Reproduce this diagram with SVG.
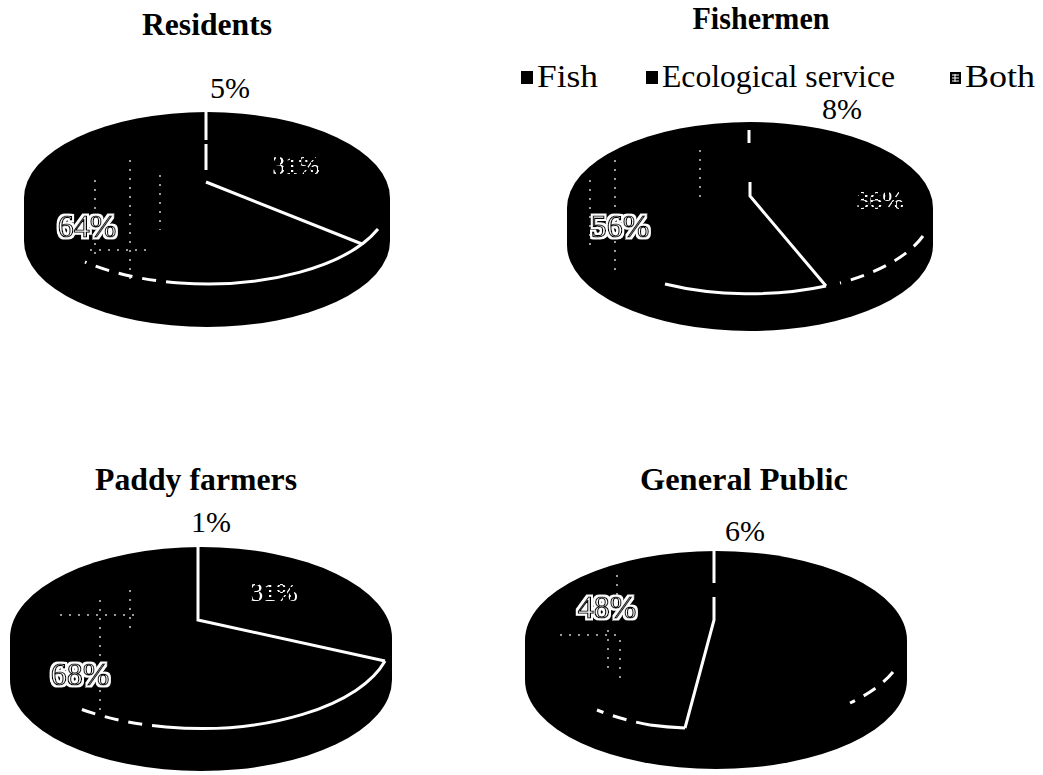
<svg xmlns="http://www.w3.org/2000/svg" width="1043" height="775" viewBox="0 0 1043 775">
<defs>
<style>
.title{font-family:"Liberation Serif","Times New Roman",serif;font-weight:bold;font-size:32px;fill:#000;text-anchor:middle}
.pct{font-family:"Liberation Serif","Times New Roman",serif;font-size:30px;fill:#000;text-anchor:middle}
.leg{font-family:"Liberation Serif","Times New Roman",serif;font-size:32px;fill:#000}
.lbl{font-family:"Liberation Serif","Times New Roman",serif;font-size:32px;fill:#fff;stroke:#000;stroke-width:1.2;text-anchor:middle;filter:url(#halo)}
.frag{font-family:"Liberation Serif","Times New Roman",serif;font-size:26px;fill:#fff;text-anchor:middle;mask:url(#broken)}
.body{fill:#000}
.edge{fill:none;stroke:#fff;stroke-width:3;stroke-linecap:butt}
.dash{fill:none;stroke:#fff;stroke-width:3;stroke-dasharray:14 10}
.tex{fill:none;stroke:#fff;stroke-width:1.5;stroke-dasharray:2 7;opacity:0.8}
</style>
<filter id="halo" x="-20%" y="-20%" width="140%" height="140%">
<feMorphology in="SourceAlpha" operator="dilate" radius="1.6" result="d"/>
<feFlood flood-color="#fff"/>
<feComposite in2="d" operator="in" result="w"/>
<feMerge><feMergeNode in="w"/><feMergeNode in="SourceGraphic"/></feMerge>
</filter>
<pattern id="stripes" width="7" height="5" patternUnits="userSpaceOnUse">
<rect width="3" height="5" fill="#fff"/>
<rect x="3" width="4" height="2" fill="#fff"/>
</pattern>
<mask id="broken" maskUnits="userSpaceOnUse" x="0" y="0" width="1043" height="775">
<rect width="1043" height="775" fill="url(#stripes)"/>
</mask>
</defs>
<rect width="1043" height="775" fill="#fff"/>

<g id="legend">
<rect x="521" y="71" width="12" height="13" fill="#000"/>
<text class="leg" x="537" y="87" textLength="61" lengthAdjust="spacingAndGlyphs">Fish</text>
<rect x="646" y="71" width="12" height="13" fill="#000"/>
<text class="leg" x="662" y="87" textLength="233" lengthAdjust="spacingAndGlyphs">Ecological service</text>
<rect x="950" y="72" width="11" height="12" fill="#000"/>
<path d="M952,75h7M952,78h7M952,81h7M955,74v8" stroke="#fff" stroke-width="1"/>
<text class="leg" x="965" y="87" textLength="70" lengthAdjust="spacingAndGlyphs">Both</text>
</g>

<g id="residents">
<text class="title" x="207" y="35" textLength="130" lengthAdjust="spacingAndGlyphs">Residents</text>
<text class="pct" x="230" y="98">5%</text>
<ellipse class="body" cx="207" cy="241" rx="183" ry="86"/>
<rect class="body" x="24" y="198" width="366" height="43"/>
<ellipse class="body" cx="207" cy="198" rx="183" ry="86"/>
<path class="tex" d="M130,160V280M95,180V255M90,250H150M160,175V230"/>
<path class="edge" d="M206,112V140M206,144V170"/>
<path class="edge" d="M206,182L362,244"/>
<path class="edge" d="M378,229A183,86 0 0 1 180,283"/>
<path class="dash" d="M180,283A183,86 0 0 1 85,262"/>
<text class="lbl" x="87" y="237">64%</text>
<text class="frag" x="296" y="174">31%</text>
</g>

<g id="fishermen">
<text class="title" x="761" y="29" textLength="137" lengthAdjust="spacingAndGlyphs">Fishermen</text>
<text class="pct" x="842" y="119">8%</text>
<ellipse class="body" cx="750" cy="245" rx="183" ry="86"/>
<rect class="body" x="567" y="208" width="366" height="37"/>
<ellipse class="body" cx="750" cy="208" rx="183" ry="86"/>
<path class="tex" d="M615,160V270M590,180V250M700,150V200"/>
<path class="edge" d="M749,130V143"/>
<path class="edge" d="M750,182V196L826,286"/>
<path class="edge" d="M826,286A183,86 0 0 1 665,284"/>
<path class="dash" d="M923,236A183,86 0 0 1 840,283"/>
<text class="lbl" x="620" y="237">56%</text>
<text class="frag" x="880" y="209">36%</text>
</g>

<g id="paddy-farmers">
<text class="title" x="196" y="490" textLength="202" lengthAdjust="spacingAndGlyphs">Paddy farmers</text>
<text class="pct" x="211" y="532">1%</text>
<ellipse class="body" cx="201" cy="680" rx="191" ry="91"/>
<rect class="body" x="10" y="638" width="382" height="42"/>
<ellipse class="body" cx="201" cy="638" rx="191" ry="91"/>
<path class="tex" d="M100,600V710M130,590V630M60,615H140"/>
<path class="edge" d="M198,547V620L385,661"/>
<path class="edge" d="M385,661A191,91 0 0 1 166,727"/>
<path class="dash" d="M166,727A191,91 0 0 1 78,708"/>
<text class="lbl" x="80" y="685">68%</text>
<text class="frag" x="274" y="601">31%</text>
</g>

<g id="general-public">
<text class="title" x="744" y="490" textLength="208" lengthAdjust="spacingAndGlyphs">General Public</text>
<text class="pct" x="745" y="541">6%</text>
<ellipse class="body" cx="716" cy="680" rx="191" ry="89"/>
<rect class="body" x="525" y="640" width="382" height="40"/>
<ellipse class="body" cx="716" cy="640" rx="191" ry="89"/>
<path class="tex" d="M620,640V680M608,630V670M560,635H620M617,575V595"/>
<path class="edge" d="M714,551V583M714,597V620L685,728"/>
<path class="edge" d="M685,728A191,89 0 0 1 650,725"/>
<path class="dash" d="M650,725A191,89 0 0 1 597,710"/>
<path class="dash" d="M893,672A191,89 0 0 1 850,703"/>
<text class="lbl" x="607" y="618">48%</text>
</g>
</svg>
